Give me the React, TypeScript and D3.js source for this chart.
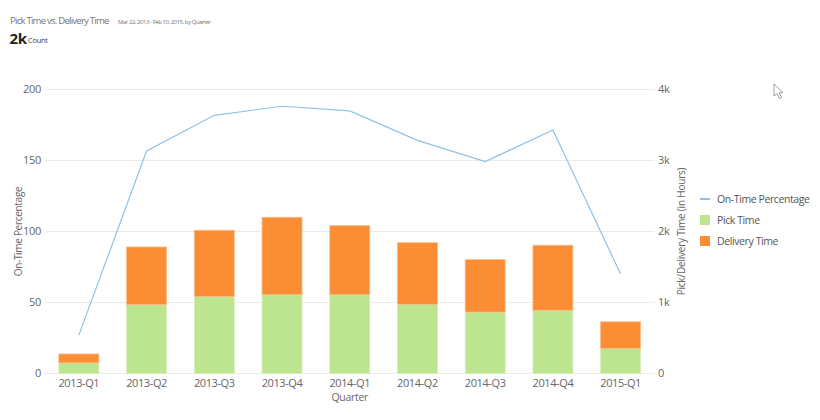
import * as d3 from "d3";
import { useEffect, useRef } from "react";

const quarters = ["2013-Q1", "2013-Q2", "2013-Q3", "2013-Q4", "2014-Q1", "2014-Q2", "2014-Q3", "2014-Q4", "2015-Q1"];
const pickTime = [150, 970, 1085, 1110, 1110, 975, 865, 890, 355];
const deliveryTime = [125, 812, 932, 1090, 972, 867, 738, 916, 373];
const onTimePct = [27, 156.7, 181.8, 188.2, 184.9, 164.2, 149.2, 171.5, 70];
const leftTicks = [0, 50, 100, 150, 200];
const rightTicks = [0, 1000, 2000, 3000, 4000];

const FONT = "'Open Sans', 'Noto Sans', sans-serif";
const TEXT = "#666";
const GREEN = "#bde48f";
const ORANGE = "#fb8d34";
const BLUE = "#8cc3e8";

export default function App() {
  const ref = useRef<SVGSVGElement | null>(null);

  useEffect(() => {
    const svg = d3.select(ref.current);
    svg.selectAll("*").remove();

    const left = 45, right = 654.5, top = 89.5, bottom = 373.5;

    const x = d3.scaleBand<string>().domain(quarters).range([left, right]).paddingInner(0.41).paddingOuter(0.205);
    const yL = d3.scaleLinear().domain([0, 200]).range([bottom, top]);
    const yR = d3.scaleLinear().domain([0, 4000]).range([bottom, top]);

    // header
    svg.append("text").attr("x", 10).attr("y", 24).text("Pick Time vs. Delivery Time")
      .style("font-size", "9.6px").style("letter-spacing", "-0.78px").style("fill", "#777");
    svg.append("text").attr("x", 118).attr("y", 23.5).text("Mar 22, 2013 - Feb 10, 2015, by Quarter")
      .style("font-size", "6.1px").style("letter-spacing", "-0.5px").style("fill", "#777");
    svg.append("path").attr("d", "M200,20.8 L202,22.8 L204,20.8")
      .attr("fill", "none").attr("stroke", "#888").attr("stroke-width", 0.7);
    svg.append("text").attr("x", 9.5).attr("y", 44).text("2k")
      .style("font-size", "15px").style("font-weight", "bold").style("letter-spacing", "-0.3px").style("fill", "#222");
    svg.append("text").attr("x", 28).attr("y", 43).text("Count")
      .style("font-size", "7.5px").style("letter-spacing", "-0.3px").style("fill", "#444");

    // grid
    svg.append("g").selectAll("line").data(leftTicks).join("line")
      .attr("x1", left).attr("x2", right)
      .attr("y1", (d) => yL(d)).attr("y2", (d) => yL(d))
      .attr("stroke", "#ebebeb").attr("stroke-width", 1);

    // left ticks
    svg.append("g").selectAll("text").data(leftTicks).join("text")
      .attr("x", 41).attr("y", (d) => yL(d)).attr("dy", "0.35em")
      .attr("text-anchor", "end").text((d) => d)
      .style("font-size", "11px").style("letter-spacing", "-0.3px").style("fill", TEXT);

    // right ticks
    svg.append("g").selectAll("text").data(rightTicks).join("text")
      .attr("x", 658).attr("y", (d) => yR(d)).attr("dy", "0.35em")
      .text((d) => (d === 0 ? "0" : d3.format("~s")(d)))
      .style("font-size", "11px").style("letter-spacing", "-0.3px").style("fill", TEXT);

    // axis titles
    svg.append("text").attr("transform", `translate(18,${(top + bottom) / 2}) rotate(-90)`)
      .attr("text-anchor", "middle").attr("dy", "0.35em").text("On-Time Percentage")
      .style("font-size", "10px").style("letter-spacing", "-0.3px").style("fill", TEXT);
    svg.append("text").attr("transform", `translate(681,${(top + bottom) / 2}) rotate(-90)`)
      .attr("text-anchor", "middle").attr("dy", "0.35em").text("Pick/Delivery Time (in Hours)")
      .style("font-size", "10px").style("letter-spacing", "-0.2px").style("fill", TEXT);

    // stacked bars
    const rows = quarters.map((q, i) => ({ q, pick: pickTime[i], delivery: deliveryTime[i] }));
    const stack = d3.stack<any>().keys(["pick", "delivery"])(rows);
    const colors = [GREEN, ORANGE];
    stack.forEach((layer, li) => {
      svg.append("g").selectAll("rect").data(layer).join("rect")
        .attr("x", (d) => x(d.data.q)!)
        .attr("width", x.bandwidth())
        .attr("y", (d) => yR(d[1]))
        .attr("height", (d) => yR(d[0]) - yR(d[1]))
        .attr("fill", colors[li])
        .attr("stroke", li === 0 ? "#d6efba" : "#fdb884")
        .attr("stroke-width", 0.8);
    });

    // line
    const line = d3.line<number>()
      .x((_, i) => x(quarters[i])! + x.bandwidth() / 2)
      .y((d) => yL(d));
    svg.append("path").datum(onTimePct).attr("d", line)
      .attr("fill", "none").attr("stroke", BLUE).attr("stroke-width", 1.2);

    // x labels
    svg.append("g").selectAll("text").data(quarters).join("text")
      .attr("x", (d) => x(d)! + x.bandwidth() / 2).attr("y", 387)
      .attr("text-anchor", "middle").text((d) => d)
      .style("font-size", "11px").style("letter-spacing", "-0.4px").style("fill", TEXT);
    svg.append("text").attr("x", (left + right) / 2).attr("y", 401)
      .attr("text-anchor", "middle").text("Quarter")
      .style("font-size", "10.5px").style("letter-spacing", "-0.3px").style("fill", TEXT);

    // legend
    const lg = svg.append("g").attr("transform", "translate(700,199)");
    lg.append("line").attr("x1", 0).attr("x2", 10).attr("y1", 0).attr("y2", 0)
      .attr("stroke", BLUE).attr("stroke-width", 2);
    const items = [
      { label: "On-Time Percentage", y: 0 },
      { label: "Pick Time", y: 21, color: GREEN },
      { label: "Delivery Time", y: 42, color: ORANGE },
    ];
    items.forEach((it) => {
      if (it.color) {
        lg.append("rect").attr("x", 0).attr("y", it.y - 5).attr("width", 10).attr("height", 10).attr("fill", it.color);
      }
      lg.append("text").attr("x", 17).attr("y", it.y).attr("dy", "0.35em").text(it.label)
        .style("font-size", "10.5px").style("letter-spacing", "-0.4px").style("fill", "#555");
    });

    // mouse cursor
    svg.append("path")
      .attr("d", "M774,84 L774,96 L777,93.5 L779.5,98.5 L781.5,97.5 L779,92.8 L783,92.5 Z")
      .attr("fill", "#fff").attr("stroke", "#888").attr("stroke-width", 0.8);
  }, []);

  return (
    <svg
      ref={ref}
      width={820}
      height={420}
      style={{ position: "absolute", left: 0, top: 0, fontFamily: FONT, background: "#fff" }}
    ></svg>
  );
}
